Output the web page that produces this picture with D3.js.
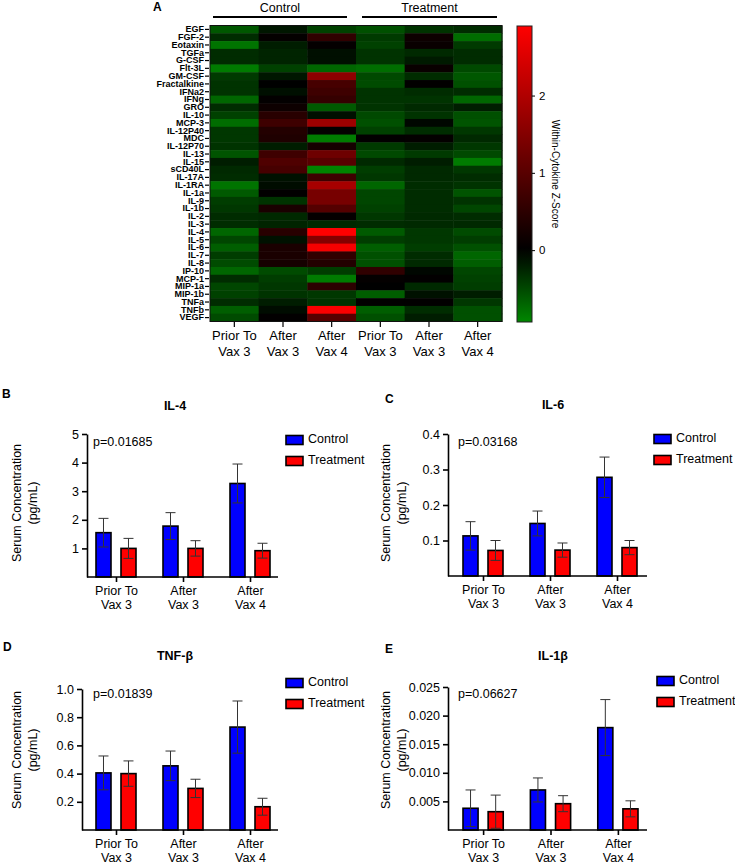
<!doctype html>
<meta charset="utf-8">
<style>
 body { margin: 0; background: #fff; }
 svg text { font-family: "Liberation Sans", Arial, sans-serif; fill: #000; }
</style>
<svg width="735" height="864"></svg>
<script src="https://d3js.org/d3.v7.min.js"></script>
<script>
 // Heatmap data
 var cytokines = ["EGF","FGF-2","Eotaxin","TGFa","G-CSF","Flt-3L","GM-CSF","Fractalkine","IFNa2","IFNg",
   "GRO","IL-10","MCP-3","IL-12P40","MDC","IL-12P70","IL-13","IL-15","sCD40L","IL-17A","IL-1RA","IL-1a",
   "IL-9","IL-1b","IL-2","IL-3","IL-4","IL-5","IL-6","IL-7","IL-8","IP-10","MCP-1","MIP-1a","MIP-1b",
   "TNFa","TNFb","VEGF"];
 var conditions = ["c1","c2","c3","t1","t2","t3"];
 var conditionLabels = [["Prior To","Vax 3"],["After","Vax 3"],["After","Vax 4"],["Prior To","Vax 3"],["After","Vax 3"],["After","Vax 4"]];

 var ctlPrior  = [-0.6,-0.3,-0.8,-0.3,-0.3,-0.85,-0.4,-0.35,-0.35,-0.7,-0.3,-0.45,-0.75,-0.38,-0.38,-0.35,-0.58,-0.2,-0.28,-0.3,-0.8,-0.62,-0.42,-0.38,-0.3,-0.3,-0.7,-0.48,-0.65,-0.42,-0.52,-0.7,-0.3,-0.48,-0.45,-0.3,-0.65,-0.52];
 var ctlAfter3 = [-0.15,0.05,-0.2,-0.25,-0.25,-0.45,-0.15,0.0,-0.1,0.03,0.15,0.45,0.7,0.4,0.35,-0.2,0.7,0.9,0.8,-0.12,-0.08,0.02,-0.35,0.3,-0.28,-0.25,0.45,-0.12,0.3,0.3,0.25,-0.52,-0.42,-0.38,-0.35,-0.2,-0.08,0.02];
 var ctlAfter4 = [-0.45,0.55,0.05,-0.1,-0.1,-0.7,1.6,0.8,0.7,0.6,-0.62,-0.1,1.8,0.05,-0.85,0.25,1.25,1.0,-0.9,0.7,1.9,1.35,1.35,0.95,0.05,-0.28,2.9,1.5,2.8,0.55,0.4,-0.42,-0.85,0.5,-0.38,-0.35,2.85,1.0];
 var trtPrior  = [-0.55,-0.4,-0.45,-0.35,-0.35,-0.75,-0.5,-0.52,-0.35,-0.35,-0.35,-0.5,-0.55,-0.45,0.02,-0.4,-0.5,-0.28,-0.42,-0.38,-0.7,-0.48,-0.48,-0.45,-0.38,-0.3,-0.62,-0.42,-0.65,-0.55,-0.55,0.55,0.05,0.0,-0.65,0.02,-0.65,-0.55];
 var trtAfter3 = [-0.35,0.15,0.1,-0.28,-0.18,0.1,-0.3,0.02,-0.3,-0.35,-0.28,-0.35,-0.05,-0.3,0.05,-0.2,-0.4,-0.2,-0.28,-0.28,-0.3,-0.3,-0.3,-0.3,-0.28,-0.28,-0.38,-0.38,-0.42,-0.3,-0.28,-0.05,0.02,-0.28,-0.12,0.02,-0.3,-0.2];
 var trtAfter4 = [-0.3,-0.75,-0.4,-0.3,-0.3,-0.5,-0.6,-0.55,-0.3,-0.7,-0.2,-0.55,-0.58,-0.38,-0.28,-0.38,-0.5,-0.85,-0.38,-0.3,-0.35,-0.58,-0.35,-0.48,-0.3,-0.28,-0.52,-0.42,-0.55,-0.7,-0.65,-0.48,-0.45,-0.42,-0.2,-0.38,-0.55,-0.55];
 var columns = [ctlPrior, ctlAfter3, ctlAfter4, trtPrior, trtAfter3, trtAfter4];
 var zTicks = [0, 1, 2];

 // Bar chart data
 var groups = ["prior3", "after3", "after4"];
 var groupLabels = [["Prior To","Vax 3"],["After","Vax 3"],["After","Vax 4"]];
 var series = ["Control", "Treatment"];

 var il4Control = [1.55, 1.78, 3.27],   il4ControlErr = [0.5, 0.47, 0.68];
 var il4Treat   = [1.0, 1.0, 0.92],     il4TreatErr   = [0.35, 0.27, 0.26];
 var il6Control = [0.113, 0.148, 0.278], il6ControlErr = [0.04, 0.035, 0.057];
 var il6Treat   = [0.072, 0.073, 0.08],  il6TreatErr   = [0.028, 0.02, 0.02];
 var tnfbControl = [0.405, 0.455, 0.73], tnfbControlErr = [0.12, 0.105, 0.185];
 var tnfbTreat   = [0.40, 0.295, 0.165], tnfbTreatErr   = [0.09, 0.065, 0.06];
 var il1bControl = [0.0038, 0.0070, 0.0179], il1bControlErr = [0.0032, 0.0021, 0.0049];
 var il1bTreat   = [0.0032, 0.0046, 0.0037], il1bTreatErr   = [0.0029, 0.0014, 0.0014];

 var svg = d3.select("svg");

 // ---------- Panel A: heatmap ----------
 var hx = d3.scaleBand().domain(conditions).range([210, 502]);
 var hy = d3.scaleBand().domain(cytokines).range([25.5, 321.5]);
 var zMin = -0.93, zMax = 2.9;
 var color = d3.scaleLinear().domain([zMin, 0, zMax]).range(["rgb(0,135,0)", "#000", "#ff0000"]);

 svg.append("text").attr("x", 153).attr("y", 8).attr("dominant-baseline", "middle")
   .style("font-weight", "bold").style("font-size", "12px").text("A");

 var hm = svg.append("g");
 columns.forEach(function(col, ci) {
   hm.selectAll(null).data(col).enter().append("rect")
     .attr("x", hx(conditions[ci]))
     .attr("y", function(d, i) { return hy(cytokines[i]); })
     .attr("width", hx.bandwidth() + 0.5)
     .attr("height", hy.bandwidth() + 0.5)
     .attr("fill", function(d) { return color(d); });
 });
 hm.append("rect").attr("x", 210).attr("y", 25.5).attr("width", 292).attr("height", 296)
   .attr("fill", "none").attr("stroke", "#111").attr("stroke-width", 1);

 var yAxisH = svg.append("g").attr("transform", "translate(209,0)")
   .call(d3.axisLeft(hy).tickSize(4).tickPadding(1));
 yAxisH.select(".domain").remove();
 yAxisH.selectAll(".tick line").attr("stroke-width", 1.2);
 yAxisH.selectAll(".tick text").style("font-size", "9px").style("font-weight", "bold");

 var xAxisH = svg.append("g").attr("transform", "translate(0,322)")
   .call(d3.axisBottom(hx).tickSize(5).tickFormat(""));
 xAxisH.select(".domain").remove();
 xAxisH.selectAll(".tick line").attr("stroke-width", 1.2);
 xAxisH.selectAll(".tick").each(function(d, i) {
   var t = d3.select(this).append("text").attr("text-anchor", "middle").style("font-size", "13px");
   t.append("tspan").attr("x", 0).attr("y", 18).text(conditionLabels[i][0]);
   t.append("tspan").attr("x", 0).attr("y", 34).text(conditionLabels[i][1]);
 });

 // group headers
 [["Control", 213, 347], ["Treatment", 362, 497]].forEach(function(h) {
   svg.append("line").attr("x1", h[1]).attr("x2", h[2]).attr("y1", 17).attr("y2", 17)
     .attr("stroke", "#000").attr("stroke-width", 2);
   svg.append("text").attr("x", (h[1] + h[2]) / 2).attr("y", 9).attr("text-anchor", "middle")
     .attr("dominant-baseline", "middle").style("font-size", "12.5px").text(h[0]);
 });

 // colour bar
 var cy = d3.scaleLinear().domain([zMin, zMax]).range([322, 26]);
 var grad = svg.append("defs").append("linearGradient").attr("id", "zgrad")
   .attr("x1", 0).attr("y1", 1).attr("x2", 0).attr("y2", 0);
 d3.range(0, 1.0001, 0.05).forEach(function(t) {
   grad.append("stop").attr("offset", t).attr("stop-color", color(zMin + t * (zMax - zMin)));
 });
 svg.append("rect").attr("x", 517).attr("y", 26).attr("width", 15).attr("height", 296)
   .attr("fill", "url(#zgrad)").attr("stroke", "#222").attr("stroke-width", 1);
 var cAxis = svg.append("g").attr("transform", "translate(532,0)")
   .call(d3.axisRight(cy).tickValues(zTicks).tickFormat(d3.format("d")).tickSize(3).tickPadding(4));
 cAxis.select(".domain").remove();
 cAxis.selectAll(".tick text").style("font-size", "11.5px");
 svg.append("text").attr("transform", "translate(555,174) rotate(90)").attr("text-anchor", "middle")
   .attr("dominant-baseline", "middle").style("font-size", "10px").text("Within-Cytokine Z-Score");

 // ---------- Bar panels ----------
 function barPanel(cfg) {
   var g = svg.append("g");
   var y = d3.scaleLinear().domain([0, cfg.max]).range([cfg.y0, cfg.yTop]);
   var x0 = d3.scaleBand().domain(groups).range(cfg.bars).paddingInner(0.403);
   var x1 = d3.scaleBand().domain(series).range([0, x0.bandwidth()]).paddingInner(0.4);
   var fills = { Control: "#0000ff", Treatment: "#ff0000" };

   g.append("text").attr("x", cfg.letter[0]).attr("y", cfg.letter[1]).attr("dominant-baseline", "middle")
     .style("font-weight", "bold").style("font-size", "12px").text(cfg.tag);
   g.append("text").attr("x", cfg.title[0]).attr("y", cfg.title[1]).attr("text-anchor", "middle")
     .attr("dominant-baseline", "middle").style("font-weight", "bold").style("font-size", "12.5px").text(cfg.name);

   var rows = [];
   groups.forEach(function(gr, i) {
     rows.push({ g: gr, s: "Control", v: cfg.ctl[i], e: cfg.ctlErr[i] });
     rows.push({ g: gr, s: "Treatment", v: cfg.trt[i], e: cfg.trtErr[i] });
   });

   g.selectAll(".bar").data(rows).enter().append("rect")
     .attr("x", function(d) { return x0(d.g) + x1(d.s); })
     .attr("y", function(d) { return y(d.v); })
     .attr("width", x1.bandwidth())
     .attr("height", function(d) { return cfg.y0 - y(d.v); })
     .attr("fill", function(d) { return fills[d.s]; })
     .attr("stroke", "#000").attr("stroke-width", 1.6);

   var eb = g.selectAll(".err").data(rows).enter().append("g")
     .attr("transform", function(d) { return "translate(" + (x0(d.g) + x1(d.s) + x1.bandwidth() / 2) + ",0)"; })
     .attr("stroke", "#333").attr("stroke-width", 1);
   eb.append("line").attr("x1", 0).attr("x2", 0)
     .attr("y1", function(d) { return y(Math.max(0, d.v - d.e)); })
     .attr("y2", function(d) { return y(d.v + d.e); });
   eb.append("line").attr("x1", -5).attr("x2", 5)
     .attr("y1", function(d) { return y(d.v + d.e); }).attr("y2", function(d) { return y(d.v + d.e); });
   eb.append("line").attr("x1", -5).attr("x2", 5)
     .attr("y1", function(d) { return y(Math.max(0, d.v - d.e)); }).attr("y2", function(d) { return y(Math.max(0, d.v - d.e)); });

   var ya = g.append("g").attr("transform", "translate(" + cfg.axisX + ",0)")
     .call(d3.axisLeft(y).tickValues(cfg.ticks).tickFormat(d3.format(cfg.fmt)).tickSize(5).tickPadding(3).tickSizeOuter(0));
   ya.select(".domain").attr("stroke-width", 1.6);
   ya.selectAll(".tick line").attr("stroke-width", 1.6);
   ya.selectAll(".tick text").style("font-size", "12.5px");

   var xs = d3.scalePoint().domain(groups).range([x0(groups[0]) + x0.bandwidth() / 2, x0(groups[2]) + x0.bandwidth() / 2]);
   g.append("line").attr("x1", cfg.axisX).attr("x2", cfg.axisEnd).attr("y1", cfg.y0).attr("y2", cfg.y0)
     .attr("stroke", "#000").attr("stroke-width", 1.6);
   var xa = g.append("g").attr("transform", "translate(0," + cfg.y0 + ")")
     .call(d3.axisBottom(xs).tickSize(5).tickFormat(""));
   xa.select(".domain").remove();
   xa.selectAll(".tick line").attr("stroke-width", 1.6);
   xa.selectAll(".tick").each(function(d, i) {
     var t = d3.select(this).append("text").attr("text-anchor", "middle").style("font-size", "12.5px");
     t.append("tspan").attr("x", 0).attr("y", 18).text(groupLabels[i][0]);
     t.append("tspan").attr("x", 0).attr("y", 32).text(groupLabels[i][1]);
   });

   var lab = g.append("text").attr("transform", "translate(" + cfg.ylab[0] + "," + cfg.ylab[1] + ") rotate(-90)")
     .attr("text-anchor", "middle").style("font-size", "12.5px");
   lab.append("tspan").attr("x", 0).attr("y", 0).text("Serum Concentration");
   lab.append("tspan").attr("x", 0).attr("y", 16).text("(pg/mL)");

   g.append("text").attr("x", cfg.p[0]).attr("y", cfg.p[1]).attr("dominant-baseline", "middle")
     .style("font-size", "12.5px").text(cfg.pText);

   series.forEach(function(s, i) {
     var ly = cfg.legend[1] + i * 21;
     g.append("rect").attr("x", cfg.legend[0]).attr("y", ly - 4.5).attr("width", 17).attr("height", 9)
       .attr("fill", fills[s]).attr("stroke", "#000").attr("stroke-width", 1.6);
     g.append("text").attr("x", cfg.legend[0] + 22).attr("y", ly).attr("dominant-baseline", "middle")
       .style("font-size", "12.5px").text(s);
   });
 }

 barPanel({ tag: "B", name: "IL-4", letter: [2, 395], title: [175, 407],
   axisX: 87, axisEnd: 278, bars: [96, 270], y0: 577, yTop: 434, max: 5, ticks: [1, 2, 3, 4, 5], fmt: "d",
   ctl: il4Control, ctlErr: il4ControlErr, trt: il4Treat, trtErr: il4TreatErr,
   ylab: [21, 503], p: [93, 443], pText: "p=0.01685", legend: [286, 440] });
 barPanel({ tag: "C", name: "IL-6", letter: [385, 400], title: [553, 406],
   axisX: 448, axisEnd: 647, bars: [463, 637], y0: 576, yTop: 434, max: 0.4, ticks: [0.1, 0.2, 0.3, 0.4], fmt: ".1f",
   ctl: il6Control, ctlErr: il6ControlErr, trt: il6Treat, trtErr: il6TreatErr,
   ylab: [390, 503], p: [458, 443], pText: "p=0.03168", legend: [654, 439] });
 barPanel({ tag: "D", name: "TNF-\u03b2", letter: [3, 648], title: [175, 657],
   axisX: 82, axisEnd: 278, bars: [96, 270], y0: 830, yTop: 689, max: 1.0, ticks: [0.2, 0.4, 0.6, 0.8, 1.0], fmt: ".1f",
   ctl: tnfbControl, ctlErr: tnfbControlErr, trt: tnfbTreat, trtErr: tnfbTreatErr,
   ylab: [21, 750], p: [93, 695], pText: "p=0.01839", legend: [286, 683] });
 barPanel({ tag: "E", name: "IL-1\u03b2", letter: [385, 650], title: [553, 657],
   axisX: 448, axisEnd: 647, bars: [463, 638], y0: 830, yTop: 687, max: 0.025, ticks: [0.005, 0.01, 0.015, 0.02, 0.025], fmt: ".3f",
   ctl: il1bControl, ctlErr: il1bControlErr, trt: il1bTreat, trtErr: il1bTreatErr,
   ylab: [390, 750], p: [458, 695], pText: "p=0.06627", legend: [657, 681] });
</script>
